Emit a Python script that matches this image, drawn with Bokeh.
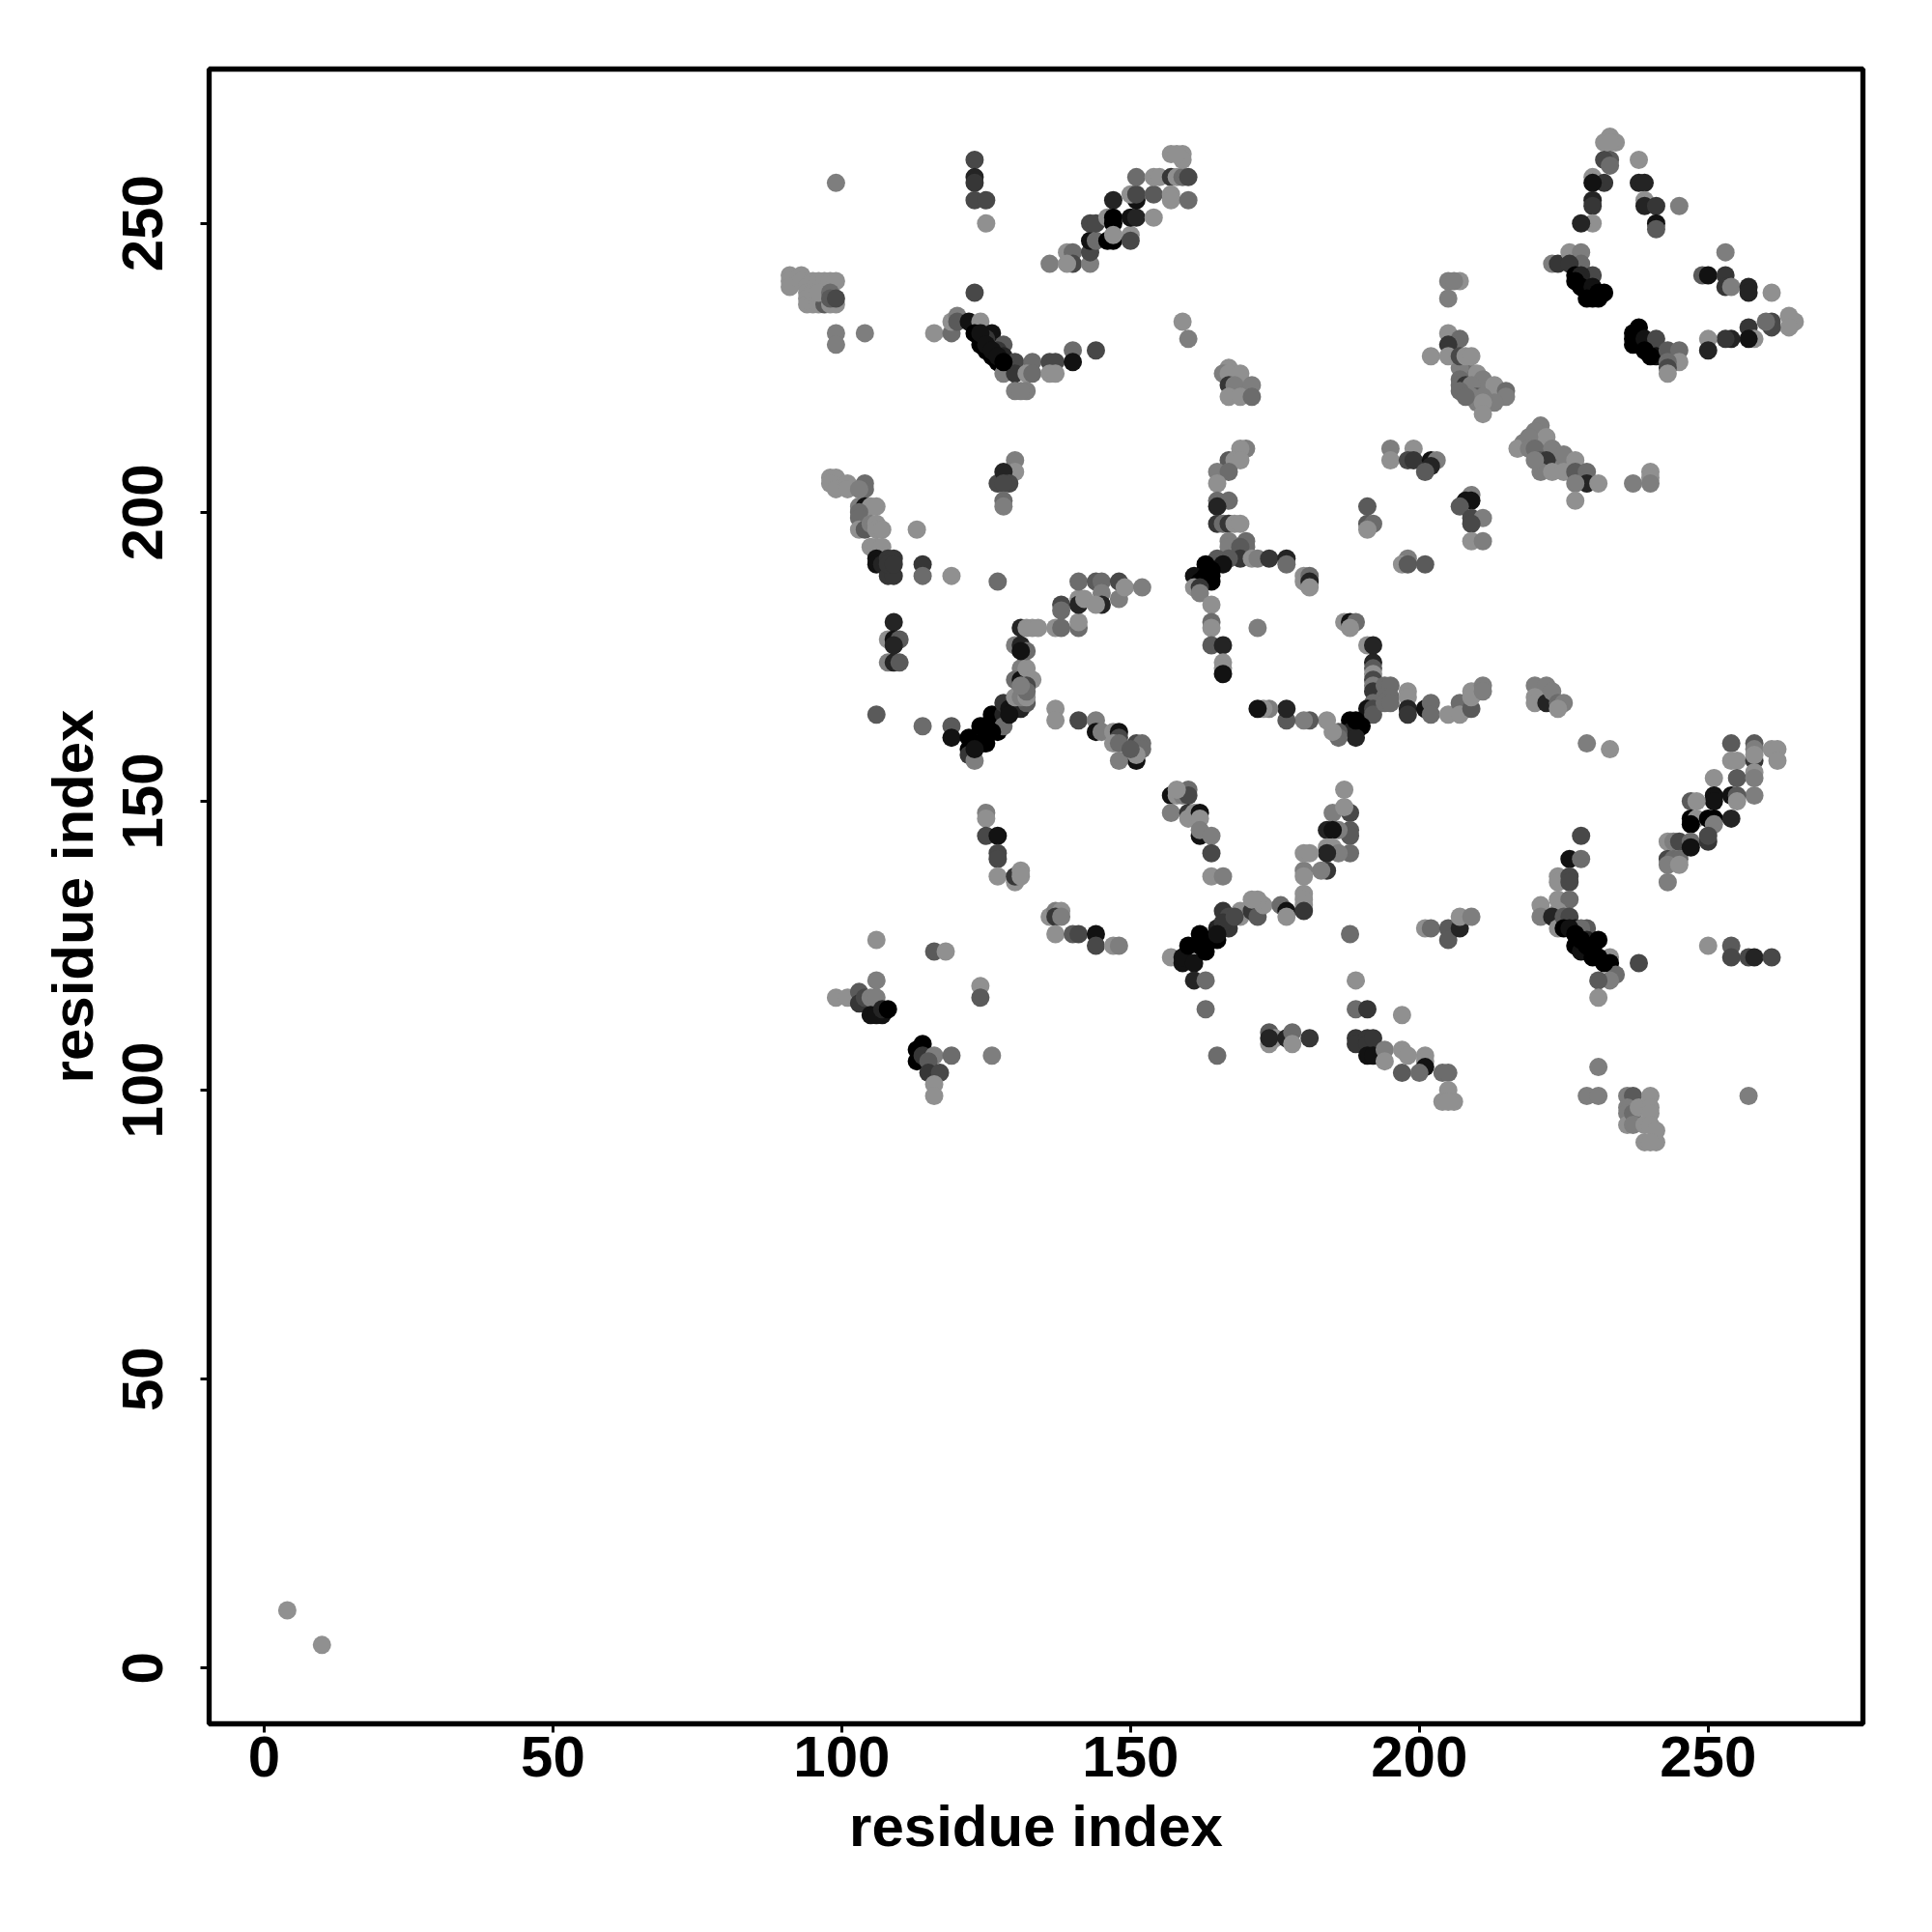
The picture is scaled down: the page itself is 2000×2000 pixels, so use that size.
from bokeh.plotting import figure
from bokeh.models import ColumnDataSource, FixedTicker
from bokeh.embed import file_html
from bokeh.resources import INLINE

# contacts: (residue i, residue j, grey level 0 = black ... 8 = light grey)
far_corner = [(4,10,8),(10,4,8)]
top_left = [(99,257,7),(91,241,8),(91,240,8),(91,239,8),(93,241,8),(93,240,8),(94,239,8),(95,240,8),(96,240,8),(97,240,8),(98,240,8),(99,240,8),
 (94,238,8),(94,237,8),(94,236,8),(95,236,8),(96,236,8),(97,236,5),(98,236,8),(99,236,8),(95,238,8),(96,238,8),(98,238,6),(98,237,5),(99,237,4),
 (99,231,7),(99,229,7),(104,231,7)]
col_123 = [(123,261,4),(123,258,2),(123,257,3),(123,254,4),(125,254,4),(125,250,8),(123,238,4)]
chain_230 = [(116,231,8),(119,231,6),(119,233,8),(120,234,7),(120,233,5),(122,233,1),(124,233,8),(123,231,0),(124,229,0),(125,228,0),(126,227,0),(127,226,0),
 (126,231,1),(125,230,3),(128,229,5),(127,228,3),(128,227,2),(130,226,4),(128,224,7),(130,224,3),(133,226,6),(132,224,8),(133,224,6),(136,226,4),(137,226,4),
 (136,224,8),(137,224,8),(140,228,6),(140,226,1),(144,228,4),(130,221,7),(132,221,7),(131,221,7)]
diag_250 = [(136,243,7),(139,245,8),(140,245,6),(140,243,4),(139,243,8),(143,243,7),(143,245,4),(143,247,1),(144,247,6),(143,250,4),(144,250,4),(146,251,8),
 (147,254,2),(147,251,0),(147,250,0),(146,247,0),(147,247,0),(147,248,8),(150,248,8),(150,247,4),(150,251,1),(151,251,2),(151,254,1),(150,255,8),(151,255,4),
 (154,251,8),(154,255,5),(151,258,6),(154,258,8),(155,258,8),(157,258,3),(158,258,8),(159,258,6),(157,255,8),(157,254,8),(160,254,6),(157,262,8),(159,262,8),(159,261,8),(160,258,4),(158,262,8)]
peak_top = [(233,265,8),(232,264,8),(234,264,8),(233,264,8),(233,261,5),(232,261,4),(233,260,6),(230,258,8),(232,257,3),(230,257,1),(230,254,2),(230,253,3),(230,250,8),(228,250,2),
 (238,261,8),(238,257,2),(239,257,2),(239,254,8),(239,253,2),(241,253,3),(241,250,1),(241,249,5),(245,253,7)]
cluster_240 = [(223,243,7),(224,243,3),(226,245,8),(228,245,7),(228,243,6),(226,243,3),(227,241,0),(230,241,4),(228,241,2),(227,240,0),(228,239,0),(230,239,1),(229,237,0),(230,237,0),(231,237,0),(232,238,0),(231,238,0)]
right_arm = [(253,245,7),(249,241,5),(250,241,1),(253,241,3),(253,239,3),(254,239,7),(257,239,2),(257,238,2),(261,238,8),(265,233,8),(264,234,8),(264,232,8),(261,233,4),(261,232,4),
 (260,233,6),(257,232,3),(258,230,8),(257,230,1),(254,230,2),(253,230,3),(250,230,8),(250,228,2)]
black_arm = [(238,232,0),(237,231,0),(237,230,0),(238,230,0),(237,229,0),(239,230,1),(241,230,4),(239,228,0),(241,227,1),(240,227,0),(243,228,5),(245,228,6),(245,226,8),(243,226,6),(243,225,4),(243,224,8)]
mid_top = [(159,233,8),(160,230,7),(167,225,8),(166,224,7),(167,224,8),(169,224,8),(167,222,3),(168,222,7),(171,222,7),(167,220,8),(169,220,8),(171,220,6)]
grey_fill = [(208,225,7),(209,224,7),(209,223,7),(210,222,7),(211,222,6),(212,221,7),(212,220,6),(208,224,6),(207,225,7),(210,219,7),(209,221,5),(210,221,5),(211,221,6),
 (221,212,7),(222,211,6),(223,209,7),(224,209,7),(224,208,6),(222,208,6),(223,208,5),(225,208,7),(220,212,7),(218,212,7),(222,210,5),(221,210,6)]
band_225 = [(205,240,7),(207,240,8),(206,240,7),(205,237,7),(205,231,8),(207,230,6),(205,229,3),(202,227,8),(205,227,8),(207,227,4),(208,227,8),(209,227,8),(210,224,8),(211,223,7),(207,223,6),
 (207,222,6),(208,222,3),(209,222,7),(210,220,5),(213,222,8),(215,221,6),(215,220,7),(213,219,7),(211,220,7),(209,220,7),(211,219,8),(211,217,8),(207,221,6),(208,220,6)]
band_210 = [(217,211,8),(221,215,7),(220,214,7),(222,213,8),(219,213,7),(219,211,7),(220,211,6),(223,211,7),(225,210,7),(221,209,5),(222,209,3),(221,207,7),(220,209,7),(223,207,8),(225,207,8),
 (227,209,8),(227,207,5),(229,207,6),(229,205,2),(227,205,7),(231,205,8),(227,202,8),(237,205,7),(240,207,8),(240,206,8),(240,205,7)]
arc_190 = [(170,211,7),(169,211,8),(167,209,5),(168,209,8),(169,209,8),(165,207,7),(167,207,6),(165,205,8),(165,202,6),(167,202,6),(165,201,2),(165,198,3),(166,198,6),(167,198,3),(168,198,8),(169,198,8),
 (167,195,7),(167,194,7),(170,195,6),(170,194,6),(169,194,5),(169,192,3),(167,192,5),(165,192,5),(166,191,1),(171,192,8),(172,192,7),(174,192,3),(177,192,2),(177,191,6),
 (163,191,0),(164,190,0),(163,190,0),(161,189,1),(163,189,0),(164,189,0),(162,188,0),(164,188,0),(161,187,8),(162,187,3),(162,186,7),(164,184,8),(164,181,6),(164,180,8),(164,177,5),(166,177,2),(166,174,8),(166,173,8),(166,172,1),
 (172,180,7),(180,189,8),(180,188,8),(181,189,6),(181,188,2),(181,187,8)]
small_195 = [(198,192,7),(197,191,8),(198,191,5),(201,191,5),(191,201,5),(191,198,5),(192,198,6),(191,197,8),(209,203,7),(208,202,1),(209,202,1),(207,201,5),(209,199,4),(211,199,7),(209,198,4),(209,195,8),(211,195,7),
 (195,211,7),(199,211,8),(195,209,8),(198,209,4),(199,209,3),(202,209,1),(203,209,7),(202,208,2),(201,207,5)]
arc_170 = [(187,181,8),(188,181,1),(189,181,6),(188,180,8),(191,177,8),(192,177,2),(192,174,2),(192,173,5),(192,172,8),(192,171,4),(192,170,7),(192,169,3),(192,167,6),(191,166,1),(192,166,4),(192,165,5),
 (194,170,6),(195,170,6),(194,168,6),(195,168,6),(194,167,6),(195,167,6),(198,169,8),(198,168,8),(198,166,2),(198,165,3),(201,166,1),(202,167,6),(202,165,6),(205,165,8),(207,167,6),(207,165,8),(209,166,5),(209,169,8),(209,168,8),(211,170,7),(211,169,7),
 (188,164,0),(190,163,0),(188,163,0),(189,163,0),(187,162,0),(188,162,2),(189,161,2),(186,162,5),(186,161,6),(185,162,8),(184,164,8),(181,164,5),(180,164,7),(177,164,5),(177,166,2),(174,166,7),(173,166,8),(172,166,1),
 (220,170,7),(222,170,7),(220,168,8),(220,167,8),(222,167,2),(223,169,7),(224,167,6),(225,167,7),(224,166,8),(229,160,7),(233,159,8)]
chain_200 = [(98,206,8),(99,206,8),(98,205,8),(99,204,8),(101,205,8),(101,204,8),(104,205,6),(104,204,6),(103,204,7),(103,201,7),(104,201,1),(105,201,8),(106,201,8),(103,200,6),(103,199,6),(103,197,8),(104,197,5),
 (105,198,7),(106,198,8),(106,197,8),(107,197,8),(105,194,8),(106,194,8),(107,194,8),(106,192,1),(106,191,1),(107,191,2),(108,192,3),(109,192,3),(108,189,3),(109,189,3),(108,191,3),(109,191,3),
 (113,197,8),(114,191,3),(114,189,6),(119,189,8),(127,188,6),(109,181,2),(108,178,8),(109,178,1),(110,178,5),(109,177,2),(108,174,7),(109,174,2),(110,174,5),(106,165,5),(114,163,6),(119,163,5),(119,161,1),
 (130,209,7),(130,207,8),(127,205,4),(128,207,2),(129,205,4),(128,205,4),(128,202,6),(128,201,7)]
diag_165 = [(122,161,0),(122,159,0),(122,158,3),(123,157,7),(124,163,0),(124,160,0),(125,160,0),(126,165,0),(126,164,0),(127,162,0),(127,163,0),(128,165,2),(128,167,3),(128,163,6),(129,166,1),(130,166,1),(131,166,2),(132,167,5),
 (130,168,8),(131,168,7),(132,168,8),(131,173,7),(130,171,6),(131,171,1),(132,173,8),(133,171,8),(132,170,4),(132,169,6),(131,170,7),(130,177,7),(131,177,2),(132,176,6),(131,176,1),(131,180,2),(132,180,8),(133,180,8),(134,180,8),
 (137,180,8),(138,180,6),(138,184,4),(138,183,6),(141,180,6),(141,181,8),(141,185,8),(141,184,2),(141,188,6),(142,185,8),(144,188,5),(145,188,6),(145,186,7),(145,184,2),(144,184,8),(148,188,4),(148,185,7),(149,187,8),(152,187,7),
 (137,166,8),(137,164,8),(141,164,4),(144,164,7),(144,162,1),(145,162,7),(147,162,8),(148,162,1),(148,161,4),(147,160,8),(148,160,6),(151,160,4),(152,160,6),(151,157,1),(148,157,7),(152,159,6),(151,158,8),(150,159,5)]
mid_150 = [(157,151,1),(158,151,8),(159,151,7),(160,152,6),(160,151,4),(158,152,8),(157,148,7),(160,148,3),(160,147,8),(161,148,8),(162,148,1),(162,147,8),(162,144,1),(162,145,7),(164,144,7),(164,141,4),(164,137,8),(166,137,7),
 (125,148,7),(125,147,8),(125,144,4),(127,144,1),(127,141,4),(127,140,4),(127,137,8),(130,136,8),(130,137,3),(131,138,8),(131,137,8),
 (136,130,8),(137,131,7),(138,131,8),(137,130,3),(138,130,7),(137,127,8),(140,127,5),(141,127,4),(144,127,1),(144,125,4),(147,125,8),(148,125,7)]
low_left = [(106,126,8),(116,124,5),(118,124,8),(106,119,7),(124,118,8),(124,116,5),(99,116,8),(101,116,8),(103,117,5),(103,115,3),(104,116,4),(105,116,7),(106,116,7),(105,113,1),(107,113,1),(106,113,1),(107,114,2),(108,114,0),
 (114,108,0),(113,107,0),(113,105,0),(114,106,3),(116,106,7),(115,105,5),(119,106,6),(126,106,7),(115,103,3),(117,103,4),(116,101,8),(116,99,8)]
mid_125 = [(157,123,8),(159,122,1),(159,123,1),(160,125,0),(161,122,1),(162,127,0),(163,124,0),(162,125,0),(164,126,0),(165,126,0),(165,128,2),(166,131,3),(167,128,3),(167,130,4),(161,119,2),(163,119,6),(163,114,6),(165,106,6),
 (169,131,8),(169,130,8),(171,131,3),(172,130,5),(173,132,8),(172,133,8),(171,133,8),(174,110,5),(174,108,8),(175,109,8),(174,109,2),(177,109,2),(178,110,6),(178,108,8),(176,132,6),(177,131,1),(177,130,8),(181,109,3)]
arc_140 = [(187,152,8),(188,148,4),(185,148,7),(187,149,8),(188,145,5),(188,144,5),(186,145,7),(184,145,2),(185,145,1),(188,141,6),(184,142,8),(185,142,8),(186,141,7),(184,141,2),(184,138,3),(183,138,7),(180,138,7),(180,137,8),(180,141,8),(181,141,8),
 (180,134,8),(180,133,8),(180,132,8),(180,131,3),(188,127,6),(189,119,8),(189,114,6),(191,114,3),(197,113,8),
 (189,109,3),(189,108,3),(191,109,3),(191,108,3),(192,109,3),(191,106,1),(192,106,1),(194,107,7),(194,105,8),(197,107,8),(197,103,5),(198,106,8),(201,106,8),(201,105,8),(201,104,1),(200,103,6),(204,103,6),(205,103,6),(205,100,8),(204,98,8),(206,98,8),(205,98,8),
 (201,128,8),(202,128,6),(205,128,5),(205,126,5),(207,128,2),(207,130,8),(209,130,7)]
low_right = [(228,144,4),(226,140,1),(228,140,6),(224,137,8),(224,136,8),(226,137,4),(226,136,4),(224,133,8),(226,133,6),(221,132,8),(221,130,7),(224,131,8),(223,130,2),(224,128,8),(225,130,5),(226,130,4),(225,128,0),(227,128,1),(229,128,5),(228,128,6),
 (227,125,0),(228,124,1),(229,126,2),(231,126,0),(230,123,0),(233,123,8),(233,122,0),(234,120,6),(233,119,7),(231,119,5),(231,116,8),(238,122,4),(250,125,8),(254,125,5),(254,123,4),(257,123,4),(258,123,2),(261,123,4),
 (231,104,7),(229,99,7),(231,99,7),(257,99,7),(236,99,7),(237,99,5),(236,97,7),(236,96,7),(236,94,8),(237,96,6),(237,94,7),(238,97,8),(239,94,8),(240,99,8),(240,97,8),(240,96,8),(240,94,8),(239,91,8),(241,91,8),(241,93,8),(240,91,8)]
diag_150 = [(254,160,5),(258,160,5),(258,159,7),(261,159,8),(262,159,8),(262,157,8),(254,157,8),(255,157,8),(258,157,3),(258,158,8),(251,154,8),(255,154,5),(258,155,8),(258,154,7),(258,151,7),
 (251,151,1),(251,150,1),(254,151,1),(255,151,5),(255,150,8),(247,150,5),(248,150,8),(247,147,0),(248,147,8),(247,146,0),(250,147,0),(251,147,0),(251,146,7),(254,147,2),
 (243,143,8),(244,143,7),(245,143,4),(247,143,6),(250,143,3),(243,140,4),(244,140,6),(245,140,6),(243,139,7),(245,139,8),(243,136,7),(250,144,4),(247,142,1)]
dark_fill = [(166,129,3),(168,130,4),(165,127,1),(125,162,0),(123,160,0),(123,159,1),(126,162,0),(129,165,1),(125,163,0),
 (124,231,1),(125,229,1),(126,228,1),(127,227,1),(128,226,0),(226,128,1),(227,127,0),(228,126,0),(229,125,0),(230,124,0),(231,123,0),(232,122,0),(189,164,0)]

regions = [far_corner, grey_fill, top_left, col_123, chain_230, diag_250, peak_top, cluster_240, right_arm, black_arm, mid_top, band_225, band_210,
           arc_190, small_195, arc_170, chain_200, diag_165, mid_150, low_left, mid_125, arc_140, low_right, diag_150, dark_fill]
x_ticks = [0, 50, 100, 150, 200, 250]
y_ticks = [0, 50, 100, 150, 200, 250]
x_title = "residue index"
y_title = "residue index"

contacts = [c for r in regions for c in r]
def grey(d):
    g = d * 18
    return "#%02x%02x%02x" % (g, g, g)
src = ColumnDataSource(dict(i=[c[0] for c in contacts], j=[c[1] for c in contacts],
                            col=[grey(c[2]) for c in contacts]))

FONT = "Liberation Sans"
p = figure(width=1984, height=1984, output_backend="svg", toolbar_location=None,
           x_range=(-9.53, 276.8), y_range=(-9.65, 276.7),
           min_border_left=216, min_border_right=56, min_border_top=71, min_border_bottom=200)
p.scatter("i", "j", source=src, size=19, color="col", line_color=None)
p.grid.visible = False
p.background_fill_color = "white"
p.outline_line_color = "black"
p.outline_line_width = 5.3
p.outline_line_alpha = 1
p.xaxis.ticker = FixedTicker(ticks=x_ticks)
p.yaxis.ticker = FixedTicker(ticks=y_ticks)
p.xaxis.axis_label = x_title
p.yaxis.axis_label = y_title
for ax in (p.xaxis[0], p.yaxis[0]):
    ax.axis_line_color = None
    ax.major_tick_line_color = "black"
    ax.major_tick_line_width = 3
    ax.major_tick_out = 9
    ax.major_tick_in = 0
    ax.minor_tick_line_color = None
    ax.major_label_text_font = FONT
    ax.major_label_text_font_style = "bold"
    ax.major_label_text_font_size = "60px"
    ax.major_label_text_color = "black"
    ax.axis_label_text_font = FONT
    ax.axis_label_text_font_style = "bold"
    ax.axis_label_text_font_size = "60px"
    ax.axis_label_text_color = "black"
p.xaxis[0].major_label_standoff = 4
p.xaxis[0].axis_label_standoff = 15
p.yaxis[0].major_label_orientation = "vertical"
p.yaxis[0].major_label_standoff = 39
p.yaxis[0].axis_label_standoff = 16

open("out.html", "w").write(file_html(p, INLINE))
